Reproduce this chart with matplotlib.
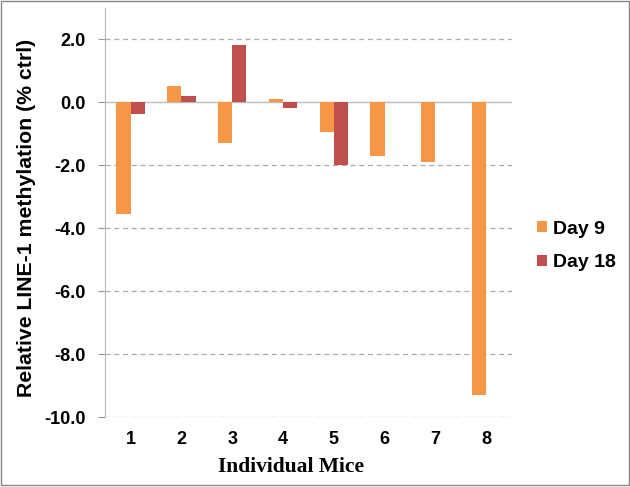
import matplotlib
matplotlib.use("Agg")
import matplotlib.pyplot as plt
from matplotlib.patches import Rectangle
import numpy as np

mice = ["1", "2", "3", "4", "5", "6", "7", "8"]
day9 = [-3.54, 0.52, -1.29, 0.10, -0.94, -1.70, -1.89, -9.30]
day18 = [-0.37, 0.21, 1.82, -0.17, -1.99, 0.0, 0.0, 0.0]
yticks = [2, 0, -2, -4, -6, -8, -10]

c9 = "#F79646"
c18 = "#C0504D"

fig = plt.figure(figsize=(6.30, 4.87), dpi=100)
ax = fig.add_axes([0.167, 0.143, 0.645, 0.841])

x = np.arange(len(mice))
w = 0.28
ax.bar(x - w / 2, day9, width=w, color=c9, label="Day 9", zorder=3)
ax.bar(x + w / 2, day18, width=w, color=c18, label="Day 18", zorder=3)

ax.set_xlim(-0.5, len(mice) - 0.5)
ax.set_ylim(-10, 3.0)
ax.set_yticks(yticks)
ax.set_yticklabels([f"{v:.1f}" for v in yticks], fontsize=13, fontweight="bold",
                   family="Liberation Sans")
ax.set_xticks(x)
ax.set_xticklabels(mice, fontsize=13, fontweight="bold", family="Liberation Sans")
ax.tick_params(axis="x", length=0, pad=10)
ax.tick_params(axis="y", length=5, color="#999999", width=0.8, pad=9)

for v in yticks:
    if v == 0:
        ax.axhline(v, color="#BBBBBB", lw=1.0, zorder=2)
    else:
        ax.axhline(v, color="#AAAAAA", lw=0.9, ls=(0, (4, 3)), zorder=1)

for s in ["top", "right", "bottom"]:
    ax.spines[s].set_visible(False)
ax.spines["left"].set_color("#BBBBBB")
ax.spines["left"].set_linewidth(0.9)

ax.set_ylabel("Relative LINE-1 methylation (% ctrl)", fontsize=15.3, fontweight="bold",
              family="Liberation Sans")
ax.yaxis.set_label_coords(-0.17, 0.487)
ax.set_xlabel("Individual Mice", fontsize=15.5, fontweight="bold",
              family="Liberation Serif")
ax.xaxis.set_label_coords(0.457, -0.097)

leg = fig.legend(loc="center left", bbox_to_anchor=(0.8245, 0.495), frameon=False,
                 prop={"family": "Liberation Sans", "weight": "bold", "size": 14},
                 handlelength=0.5, handleheight=0.5, handletextpad=0.35, labelspacing=0.85)

fig.patches.append(Rectangle((0.002, 0.004), 0.996, 0.994, transform=fig.transFigure,
                             fill=False, edgecolor="#888888", lw=1.0))

fig.savefig("out.png", dpi=100)
